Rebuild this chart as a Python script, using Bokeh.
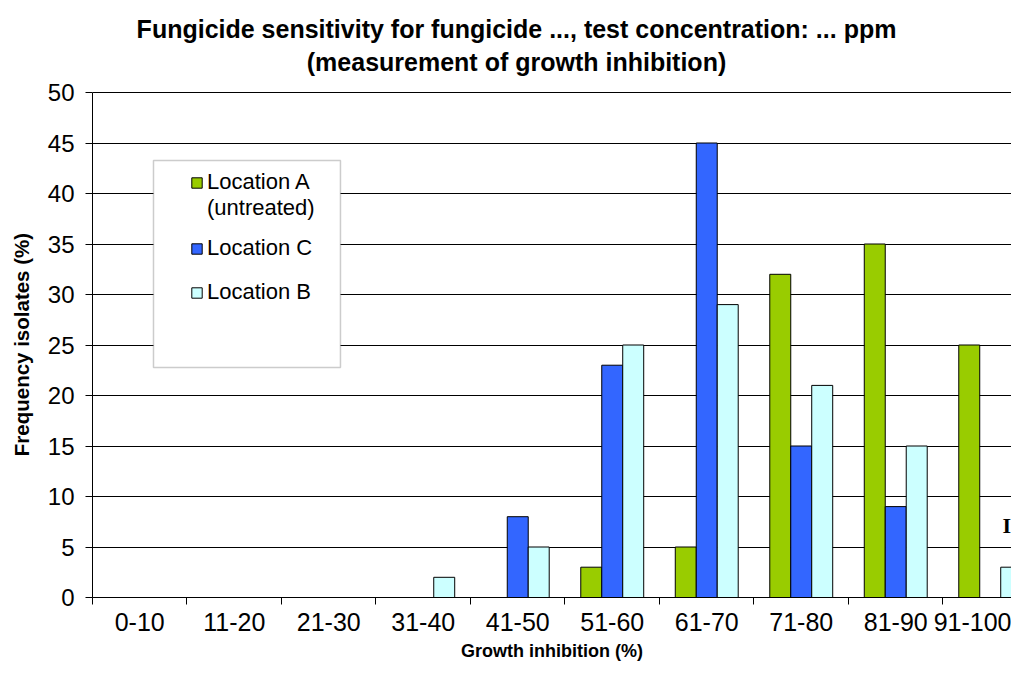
from bokeh.plotting import figure
from bokeh.models import (FixedTicker, Legend, LegendItem, BoxAnnotation,
                          Label, ColumnDataSource, Range1d)
from bokeh.transform import dodge
from bokeh.embed import file_html
from bokeh.resources import INLINE

categories = ["0-10", "11-20", "21-30", "31-40", "41-50",
              "51-60", "61-70", "71-80", "81-90", "91-100"]
loc_a = [0, 0, 0, 0, 0, 3, 5, 32, 35, 25]      # Location A (untreated)
loc_c = [0, 0, 0, 0, 8, 23, 45, 15, 9, 0]      # Location C
loc_b = [0, 0, 0, 2, 5, 25, 29, 21, 15, 3]     # Location B
y_ticks = [0, 5, 10, 15, 20, 25, 30, 35, 40, 45, 50]
title_lines = ["Fungicide sensitivity for fungicide ..., test concentration: ... ppm",
               "(measurement of growth inhibition)"]

FONT = "Liberation Sans"
GREEN, BLUE, CYAN = "#99CC00", "#3366FF", "#CCFFFF"
BW = 0.222

xs = list(range(len(categories)))
src = ColumnDataSource(dict(x=xs, cat=categories, a=loc_a, c=loc_c, b=loc_b))

# the frame reaches the top of the figure; the value axis itself stops at 50
p = figure(width=1011, height=663, output_backend="svg", toolbar_location=None,
           x_range=Range1d(-0.5, 9.225), y_range=Range1d(0, 59.11),
           min_border_left=92, min_border_right=0, min_border_top=0,
           min_border_bottom=66)
p.background_fill_color = "white"
p.border_fill_color = "white"
p.outline_line_color = None

ra = p.vbar(x=dodge("x", -BW, range=p.x_range), top="a", width=BW, source=src,
            fill_color=GREEN, line_color="black", line_width=1)
rc = p.vbar(x=dodge("x", 0, range=p.x_range), top="c", width=BW, source=src,
            fill_color=BLUE, line_color="black", line_width=1)
rb = p.vbar(x=dodge("x", BW, range=p.x_range), top="b", width=BW, source=src,
            fill_color=CYAN, line_color="black", line_width=1)
blank = p.vbar(x=[], top=[], width=BW, fill_alpha=0, line_alpha=0)

# axes
xa = p.xaxis[0]
xa.ticker = FixedTicker(ticks=xs, minor_ticks=[i - 0.5 for i in range(len(categories) + 1)])
xa.major_label_overrides = {i: c for i, c in enumerate(categories)}
xa.major_tick_out = 0
xa.major_tick_in = 0
xa.minor_tick_out = 7
xa.minor_tick_in = 0
xa.minor_tick_line_color = "black"
xa.axis_line_color = "black"
xa.major_label_text_font = FONT
xa.major_label_text_font_size = "25px"
xa.major_label_text_color = "black"
xa.major_label_standoff = 8
xa.axis_label = "Growth inhibition (%)"
xa.axis_label_text_font = FONT
xa.axis_label_text_font_size = "18px"
xa.axis_label_text_font_style = "bold"
xa.axis_label_text_color = "black"
xa.axis_label_standoff = 7

ya = p.yaxis[0]
ya.ticker = FixedTicker(ticks=y_ticks)
ya.bounds = (0, 50)
ya.major_tick_out = 7
ya.major_tick_in = 0
ya.minor_tick_line_color = None
ya.major_tick_line_color = "black"
ya.axis_line_color = "black"
ya.major_label_text_font = FONT
ya.major_label_text_font_size = "24px"
ya.major_label_text_color = "black"
ya.major_label_standoff = 11
# trailing no-break spaces keep the label centred on the 0-50 part of the axis
ya.axis_label = "Frequency isolates (%)" + "\u00a0" * 16
ya.axis_label_text_font = FONT
ya.axis_label_text_font_size = "20.5px"
ya.axis_label_text_font_style = "bold"
ya.axis_label_text_color = "black"
ya.axis_label_standoff = 12

p.xgrid.grid_line_color = None
p.ygrid.ticker = FixedTicker(ticks=y_ticks)
p.ygrid.grid_line_color = "black"
p.ygrid.grid_line_width = 1

# two-line title, placed in the empty band above the value axis
for txt, ty in zip(title_lines, [56.24, 53.07]):
    p.add_layout(Label(x=3.987, y=ty, text=txt,
                       text_align="center", text_baseline="middle",
                       text_font=FONT, text_font_size="25px",
                       text_font_style="bold", text_color="black"))

# legend box
box = BoxAnnotation(left=0.1455, right=2.124, top=43.27, bottom=22.77,
                    fill_color="white", fill_alpha=1, line_color="#555555",
                    line_width=1.5, level="annotation")
p.add_layout(box)

common = dict(border_line_color=None, background_fill_alpha=0, padding=0, margin=0,
              label_height=25, glyph_height=13, glyph_width=13, label_standoff=4,
              label_text_font=FONT, label_text_font_size="22px",
              label_text_color="black")
leg1 = Legend(items=[LegendItem(label="Location A", renderers=[ra]),
                     LegendItem(label="(untreated)", renderers=[blank])],
              location=(98, 376), spacing=0, **common)
leg2 = Legend(items=[LegendItem(label="Location C", renderers=[rc]),
                     LegendItem(label="Location B", renderers=[rb])],
              location=(98, 292), spacing=18, **common)
p.add_layout(leg1)
p.add_layout(leg2)

p.add_layout(Label(x=9.13, y=7.13, text="I", text_font="Liberation Serif",
                   text_font_size="22px", text_font_style="bold",
                   text_baseline="middle", text_color="black"))

open("out.html", "w").write(file_html(p, INLINE))
